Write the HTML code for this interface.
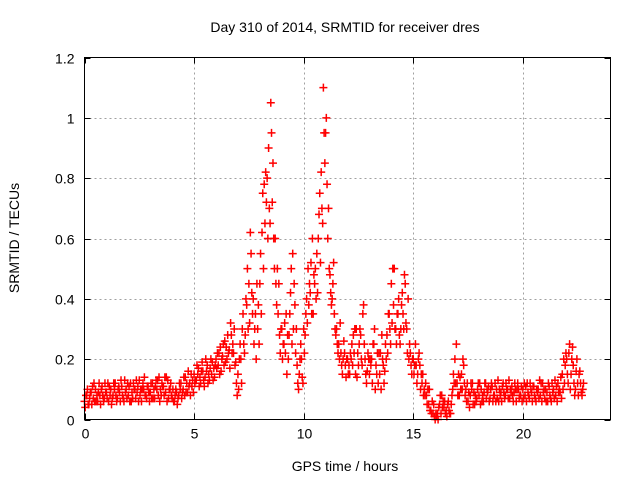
<!DOCTYPE html>
<html><head><meta charset="utf-8"><style>
body{margin:0;background:#fff;}
svg{display:block;font-family:"Liberation Sans",sans-serif;}
</style></head><body>
<svg id="chart" width="640" height="480" viewBox="0 0 640 480">
<text x="345" y="32" font-size="14" text-anchor="middle">Day 310 of 2014, SRMTID for receiver dres</text>
<text x="345" y="471" font-size="14" text-anchor="middle">GPS time / hours</text>
<text transform="translate(19,238) rotate(-90)" font-size="14" text-anchor="middle">SRMTID / TECUs</text>
<g id="grid"></g><g id="ticks"></g><g id="marks"></g>
<rect x="84.5" y="57.5" width="526" height="362" fill="none" stroke="#000" stroke-width="1"/>
</svg>
<script>
const xTicks=[0,5,10,15,20];
const yTicks=[0,0.2,0.4,0.6,0.8,1,1.2];
const yTickLabels=["0","0.2","0.4","0.6","0.8","1","1.2"];
const seriesA=[0.06,0.08,0.05,0.09,0.07,0.1,0.06,0.08,0.11,0.07,
0.09,0.06,0.1,0.08,0.12,0.07,0.09,0.11,0.06,0.1,
0.08,0.12,0.07,0.1,0.09,0.13,0.06,0.1,0.08,0.11,
0.09,0.12,0.07,0.1,0.14,0.08,0.11,0.09,0.13,0.1,
0.07,0.06,0.09,0.08,0.12,0.1,0.14,0.09,0.12,0.11,
0.15,0.13,0.17,0.12,0.16,0.14,0.18,0.13,0.15,0.17,
0.2,0.18,0.24,0.21,0.26,0.2,0.23,0.28,0.22,0.19,
0.15,0.25,0.3,0.22,0.38,0.45,0.55,0.4,0.35,0.3,
0.45,0.62,0.78,0.72,0.9,1.05,0.85,0.6,0.5,0.28,
0.3,0.25,0.35,0.2,0.42,0.55,0.38,0.18,0.15,0.2,
0.3,0.35,0.5,0.42,0.6,0.45,0.55,0.68,0.82,1.1,
0.95,0.6,0.48,0.4,0.35,0.3,0.25,0.22,0.2,0.18,
0.2,0.15,0.25,0.22,0.3,0.18,0.28,0.35,0.2,0.16,
0.15,0.2,0.25,0.18,0.12,0.22,0.2,0.16,0.28,0.35,
0.45,0.38,0.3,0.35,0.25,0.42,0.48,0.3,0.2,0.18,
0.2,0.25,0.15,0.18,0.12,0.1,0.08,0.05,0.03,0.02,
0.0,0.02,0.05,0.08,0.04,0.03,0.06,0.02,0.1,0.2,
0.12,0.08,0.15,0.18,0.1,0.06,0.08,0.12,0.05,0.07,
0.08,0.1,0.06,0.12,0.09,0.07,0.11,0.08,0.1,0.06,
0.09,0.12,0.08,0.1,0.07,0.11,0.09,0.06,0.1,0.08,
0.1,0.08,0.12,0.07,0.09,0.11,0.06,0.1,0.08,0.12,
0.07,0.09,0.11,0.06,0.1,0.08,0.12,0.09,0.15,0.12,
0.2,0.22,0.15,0.18,0.1,0.12,0.16,0.08];
const seriesB=[0.04,0.1,0.07,0.05,0.12,0.06,0.09,0.05,0.08,0.12,
0.07,0.11,0.05,0.12,0.08,0.1,0.06,0.08,0.13,0.07,
0.11,0.06,0.12,0.07,0.11,0.08,0.1,0.14,0.07,0.09,
0.12,0.07,0.11,0.13,0.06,0.12,0.08,0.14,0.07,0.12,
0.1,0.08,0.05,0.12,0.07,0.14,0.09,0.16,0.08,0.13,
0.12,0.18,0.11,0.16,0.13,0.2,0.12,0.17,0.19,0.14,
0.17,0.22,0.16,0.25,0.19,0.28,0.17,0.22,0.3,0.12,
0.1,0.2,0.35,0.28,0.5,0.32,0.42,0.25,0.2,0.38,
0.55,0.75,0.65,0.8,0.7,0.95,0.6,0.45,0.35,0.22,
0.2,0.32,0.15,0.28,0.5,0.3,0.22,0.12,0.2,0.14,
0.22,0.4,0.38,0.52,0.35,0.5,0.42,0.75,0.7,0.95,
1.0,0.7,0.42,0.45,0.3,0.25,0.2,0.18,0.26,0.14,
0.15,0.22,0.18,0.3,0.14,0.25,0.2,0.38,0.15,0.22,
0.2,0.12,0.3,0.15,0.22,0.1,0.18,0.25,0.22,0.3,
0.32,0.5,0.25,0.4,0.3,0.35,0.45,0.22,0.25,0.15,
0.15,0.18,0.2,0.1,0.15,0.08,0.05,0.1,0.02,0.05,
0.02,0.0,0.08,0.04,0.06,0.01,0.03,0.05,0.15,0.12,
0.08,0.14,0.1,0.12,0.06,0.09,0.12,0.05,0.08,0.1,
0.12,0.06,0.09,0.07,0.11,0.1,0.06,0.12,0.07,0.1,
0.06,0.09,0.12,0.07,0.1,0.08,0.12,0.1,0.07,0.11,
0.07,0.11,0.09,0.12,0.06,0.08,0.1,0.07,0.12,0.09,
0.1,0.06,0.08,0.12,0.07,0.11,0.09,0.14,0.1,0.18,
0.15,0.25,0.2,0.12,0.16,0.08,0.12,0.1];
const seriesC=[0.08,0.05,0.09,0.11,0.06,0.08,0.12,0.1,0.06,0.09,
0.12,0.08,0.07,0.1,0.06,0.11,0.13,0.07,0.09,0.12,
0.06,0.09,0.1,0.13,0.06,0.1,0.12,0.08,0.11,0.06,
0.07,0.1,0.13,0.08,0.1,0.11,0.14,0.06,0.1,0.08,
0.06,0.1,0.07,0.1,0.09,0.08,0.12,0.11,0.15,0.09,
0.13,0.15,0.14,0.19,0.11,0.16,0.15,0.2,0.13,0.18,
0.22,0.15,0.2,0.18,0.24,0.22,0.32,0.25,0.18,0.08,
0.2,0.12,0.25,0.4,0.3,0.62,0.35,0.3,0.45,0.25,
0.35,0.5,0.82,0.6,0.65,0.72,0.5,0.38,0.45,0.3,
0.25,0.22,0.28,0.35,0.25,0.45,0.3,0.1,0.25,0.12,
0.28,0.32,0.45,0.35,0.48,0.4,0.6,0.52,0.65,0.85,
0.78,0.5,0.38,0.52,0.28,0.22,0.32,0.15,0.22,0.2,
0.18,0.2,0.28,0.15,0.22,0.3,0.18,0.25,0.12,0.2,
0.18,0.25,0.1,0.22,0.15,0.28,0.12,0.2,0.35,0.25,
0.5,0.3,0.35,0.28,0.38,0.3,0.32,0.4,0.22,0.2,
0.18,0.12,0.22,0.15,0.08,0.12,0.1,0.03,0.06,0.01,
0.01,0.04,0.02,0.06,0.02,0.05,0.02,0.08,0.12,0.25,
0.15,0.1,0.2,0.08,0.12,0.04,0.1,0.09,0.06,0.12,
0.05,0.08,0.12,0.1,0.06,0.12,0.08,0.06,0.13,0.08,
0.11,0.07,0.1,0.13,0.09,0.06,0.1,0.12,0.08,0.06,
0.12,0.06,0.08,0.1,0.11,0.07,0.09,0.13,0.06,0.1,
0.06,0.12,0.07,0.09,0.13,0.06,0.1,0.07,0.2,0.22,
0.12,0.1,0.24,0.08,0.2,0.15,0.09,0.12];
const timeStep=0.1;
const NS="http://www.w3.org/2000/svg";
const X0=84.5,X1=610.5,Y0=419.5,Y1=57.5;
function xs(h){return X0+(h/24)*(X1-X0);}
function ys(v){return Y0-(v/1.2)*(Y0-Y1);}
function mk(tag,attrs,parent){const e=document.createElementNS(NS,tag);for(const k in attrs)e.setAttribute(k,attrs[k]);parent.appendChild(e);return e;}
const grid=document.getElementById('grid'),ticks=document.getElementById('ticks'),marks=document.getElementById('marks');
yTicks.forEach((v,i)=>{
  const y=Math.round(ys(v))+0.5;
  if(v>0&&v<1.2){const g=mk('line',{x1:X0,x2:X1,y1:y,y2:y,stroke:'#a0a0a0','stroke-dasharray':'2,3'},grid);
  
  }
  mk('line',{x1:X0,x2:X0+6,y1:y,y2:y,stroke:'#000'},ticks);
  mk('line',{x1:X1,x2:X1-6,y1:y,y2:y,stroke:'#000'},ticks);
  const t=mk('text',{x:X0-10,y:y+5,'font-size':14,'text-anchor':'end'},ticks);
  t.textContent=yTickLabels[i];
  
  
});
xTicks.forEach(h=>{
  const x=Math.round(xs(h))+0.5;
  if(h>0){const g=mk('line',{x1:x,x2:x,y1:Y0,y2:Y1,stroke:'#a0a0a0','stroke-dasharray':'2,3'},grid);
  
  }
  mk('line',{x1:x,x2:x,y1:Y0,y2:Y0-6,stroke:'#000'},ticks);
  mk('line',{x1:x,x2:x,y1:Y1,y2:Y1+6,stroke:'#000'},ticks);
  const t=mk('text',{x:x,y:Y0+19,'font-size':14,'text-anchor':'middle'},ticks);
  t.textContent=String(h);
  
  
});
function plus(h,v,col){
  const x=xs(h),y=ys(v);
  const p=mk('path',{d:`M${x-4},${y}H${x+4}M${x},${y-4}V${y+4}`,stroke:col,'stroke-width':1.5,fill:'none'},marks);
  
  
}
[seriesA,seriesB,seriesC].forEach((s,k)=>{
  s.forEach((v,i)=>{plus(i*timeStep+k*timeStep/3,v,'#ff0000');});
});
</script>
</body></html>
